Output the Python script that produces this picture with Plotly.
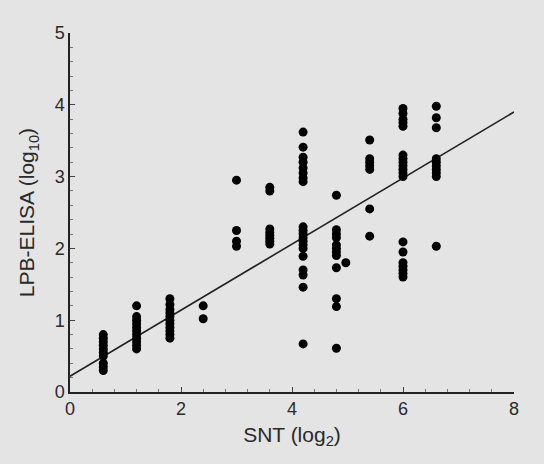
import plotly.graph_objects as go

# SNT (log2) columns and LPB-ELISA (log10) values
col_x = [0.6, 1.2, 1.8, 2.4, 3.0, 3.6, 4.2, 4.8, 4.97, 5.4, 6.0, 6.6]
col_y = [
    [0.8, 0.75, 0.7, 0.65, 0.6, 0.55, 0.5, 0.4, 0.35, 0.3],
    [1.2, 1.05, 1.0, 0.95, 0.9, 0.85, 0.8, 0.75, 0.7, 0.65, 0.6],
    [1.3, 1.22, 1.15, 1.1, 1.05, 1.0, 0.95, 0.9, 0.85, 0.8, 0.75],
    [1.2, 1.02],
    [2.95, 2.25, 2.1, 2.03],
    [2.85, 2.8, 2.27, 2.22, 2.18, 2.14, 2.1, 2.06],
    [3.62, 3.41, 3.27, 3.2, 3.12, 3.05, 2.98, 2.93, 2.3, 2.25, 2.2, 2.15, 2.1,
     2.05, 2.0, 1.89, 1.7, 1.63, 1.46, 0.67],
    [2.74, 2.26, 2.2, 2.15, 2.05, 2.0, 1.95, 1.9, 1.73, 1.3, 1.19, 0.61],
    [1.8],
    [3.51, 3.25, 3.2, 3.15, 3.1, 2.55, 2.17],
    [3.95, 3.88, 3.8, 3.75, 3.7, 3.3, 3.25, 3.2, 3.15, 3.1, 3.05, 3.0, 2.09,
     1.95, 1.8, 1.75, 1.7, 1.65, 1.6],
    [3.98, 3.82, 3.68, 3.25, 3.2, 3.15, 3.1, 3.05, 3.0, 2.03],
]

fit_intercept = 0.22
fit_slope = 0.46
fit_x = [0, 8]

xs, ys = [], []
for cx, vals in zip(col_x, col_y):
    for v in vals:
        xs.append(cx)
        ys.append(v)

fit_y = [fit_intercept + fit_slope * x for x in fit_x]

bg = "#e4e4e4"
txt = "#2a2a2a"
fig = go.Figure()
fig.add_trace(go.Scatter(x=fit_x, y=fit_y, mode="lines",
                         line=dict(color="#222222", width=1.6),
                         hoverinfo="skip"))
fig.add_trace(go.Scatter(x=xs, y=ys, mode="markers",
                         marker=dict(color="black", size=9, line=dict(width=0))))

fig.update_layout(
    width=544, height=464,
    margin=dict(l=70, r=30, t=33, b=72),
    paper_bgcolor=bg, plot_bgcolor=bg,
    showlegend=False,
    font=dict(family="Liberation Sans, Arial, sans-serif", size=18, color=txt),
)
fig.update_xaxes(
    range=[0, 8], tickvals=[0, 2, 4, 6, 8], showgrid=False, zeroline=False,
    showline=True, linecolor="#222222", linewidth=1.5,
    ticks="inside", ticklen=5, tickcolor="#444444", tickwidth=1,
    minor=dict(dtick=0.4, ticks="inside", ticklen=3, tickcolor="#777777", tickwidth=1),
    title=dict(text="SNT (log<sub>2</sub>)", font=dict(size=21, color=txt), standoff=9),
    tickfont=dict(size=18, color=txt),
)
fig.update_yaxes(
    range=[0, 5], tickvals=[0, 1, 2, 3, 4, 5], showgrid=False, zeroline=False,
    showline=True, linecolor="#222222", linewidth=1.5,
    ticks="inside", ticklen=5, tickcolor="#444444", tickwidth=1,
    minor=dict(dtick=0.2, ticks="inside", ticklen=3, tickcolor="#777777", tickwidth=1),
    title=dict(text="LPB-ELISA (log<sub>10</sub>)", font=dict(size=21, color=txt), standoff=14),
    tickfont=dict(size=18, color=txt),
)
fig.write_html("out.html")
